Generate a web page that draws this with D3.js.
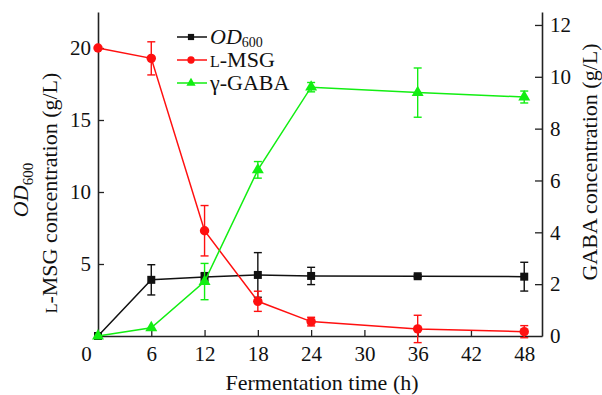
<!DOCTYPE html>
<html>
<head>
<meta charset="utf-8">
<script src="https://cdn.jsdelivr.net/npm/d3@7"></script>
<style>
  body { margin: 0; background: #fff; }
  svg { display: block; font-family: "Liberation Serif", "Times New Roman", serif; }
</style>
</head>
<body>
<svg id="chart" width="602" height="395"></svg>
<script>
// fermentation time (h)
const times = [0, 6, 12, 18, 24, 36, 48];
// OD600 (left axis)
const od600 = [0, 3.9, 4.1, 4.24, 4.17, 4.15, 4.12];
const od600Err = [0, 1.05, 0.3, 1.55, 0.6, 0.1, 1.0];
// L-MSG concentration, g/L (left axis)
const msg = [20, 19.28, 7.31, 2.41, 1.0, 0.49, 0.3];
const msgErr = [0, 1.15, 1.75, 0.7, 0.3, 0.95, 0.42];
// GABA concentration, g/L (right axis)
const gaba = [0, 0.32, 2.1, 6.41, 9.6, 9.39, 9.22];
const gabaErr = [0, 0, 0.7, 0.32, 0.18, 0.95, 0.23];

const xTicks = [0, 6, 12, 18, 24, 30, 36, 42, 48];
const leftTicks = [5, 10, 15, 20];
const rightTicks = [0, 2, 4, 6, 8, 10, 12];

const MARGINS = { top: 12, right: 60, bottom: 59, left: 98 };
const W = 602, H = 395;

const svg = d3.select('#chart');

const scaleX = d3.scaleLinear().domain([0, 50]).range([MARGINS.left, W - MARGINS.right]);
const scaleYL = d3.scaleLinear().domain([0, 22.5]).range([H - MARGINS.bottom, MARGINS.top]);
const scaleYR = d3.scaleLinear().domain([0, 12.5]).range([H - MARGINS.bottom, MARGINS.top]);

const axisColor = '#222';

function styleAxis(g) {
  g.select('.domain').attr('stroke', axisColor).attr('stroke-width', 1.6);
  g.selectAll('.tick line').attr('stroke', axisColor).attr('stroke-width', 1.3);
  g.selectAll('.tick text').attr('fill', '#111').attr('font-size', 21)
    .attr('font-family', '"Liberation Serif", serif');
}

// x axis
const axisX = svg.append('g')
  .attr('transform', `translate(0, ${H - MARGINS.bottom})`)
  .call(d3.axisBottom(scaleX).tickValues(xTicks).tickSizeInner(-6).tickSizeOuter(0).tickPadding(10));
styleAxis(axisX);
// the 0 label sits a bit left of the corner, clear of the y axis
axisX.selectAll('.tick text').filter(d => d === 0).attr('dx', -12);
axisX.selectAll('.tick line').filter(d => d === 0).remove();

// left y axis
const axisL = svg.append('g')
  .attr('transform', `translate(${MARGINS.left}, 0)`)
  .call(d3.axisLeft(scaleYL).tickValues(leftTicks).tickSizeInner(-6).tickSizeOuter(0).tickPadding(7));
styleAxis(axisL);

// right y axis
const axisR = svg.append('g')
  .attr('transform', `translate(${W - MARGINS.right}, 0)`)
  .call(d3.axisRight(scaleYR).tickValues(rightTicks).tickSizeInner(-7).tickSizeOuter(0).tickPadding(8));
styleAxis(axisR);
axisR.selectAll('.tick line').filter(d => d === 0).remove();

// axis titles
svg.append('text')
  .attr('x', (MARGINS.left + W - MARGINS.right) / 2 + 2)
  .attr('y', 390)
  .attr('text-anchor', 'middle')
  .attr('font-size', 22)
  .attr('fill', '#111')
  .text('Fermentation time (h)');

const odTitle = svg.append('text')
  .attr('transform', 'translate(28, 190) rotate(-90)')
  .attr('text-anchor', 'middle')
  .attr('font-size', 22)
  .attr('fill', '#111');
odTitle.append('tspan').attr('font-style', 'italic').text('OD');
odTitle.append('tspan').attr('font-size', 15).attr('dy', 5).text('600');

const msgTitle = svg.append('text')
  .attr('transform', 'translate(57, 193) rotate(-90)')
  .attr('text-anchor', 'middle')
  .attr('font-size', 22)
  .attr('fill', '#111');
msgTitle.append('tspan').attr('font-size', 16).text('L');
msgTitle.append('tspan').text('-MSG concentration (g/L)');

svg.append('text')
  .attr('transform', 'translate(597, 162) rotate(-90)')
  .attr('text-anchor', 'middle')
  .attr('font-size', 22)
  .attr('fill', '#111')
  .text('GABA concentration (g/L)');

// series
const series = [
  { name: 'od', values: od600, errs: od600Err, y: scaleYL, color: '#111111', symbol: d3.symbolSquare, size: 64 },
  { name: 'msg', values: msg, errs: msgErr, y: scaleYL, color: '#ff1010', symbol: d3.symbolCircle, size: 70 },
  { name: 'gaba', values: gaba, errs: gabaErr, y: scaleYR, color: '#12ee12', symbol: d3.symbolTriangle, size: 62 }
];

series.forEach(s => {
  const pts = times.map((t, i) => ({ t, v: s.values[i], e: s.errs[i] }));
  const g = svg.append('g').attr('class', 'series-' + s.name);

  g.append('path')
    .datum(pts)
    .attr('fill', 'none')
    .attr('stroke', s.color)
    .attr('stroke-width', 1.5)
    .attr('d', d3.line().x(d => scaleX(d.t)).y(d => s.y(d.v)));

  const errs = g.selectAll('.err')
    .data(pts.filter(d => d.e > 0))
    .join('g')
    .attr('class', 'err')
    .attr('stroke', s.color)
    .attr('stroke-width', 1.4);
  errs.append('line')
    .attr('x1', d => scaleX(d.t)).attr('x2', d => scaleX(d.t))
    .attr('y1', d => s.y(d.v - d.e)).attr('y2', d => s.y(d.v + d.e));
  errs.append('line')
    .attr('x1', d => scaleX(d.t) - 4).attr('x2', d => scaleX(d.t) + 4)
    .attr('y1', d => s.y(d.v + d.e)).attr('y2', d => s.y(d.v + d.e));
  errs.append('line')
    .attr('x1', d => scaleX(d.t) - 4).attr('x2', d => scaleX(d.t) + 4)
    .attr('y1', d => s.y(d.v - d.e)).attr('y2', d => s.y(d.v - d.e));

  g.selectAll('.mark')
    .data(pts)
    .join('path')
    .attr('class', 'mark')
    .attr('transform', d => `translate(${scaleX(d.t)}, ${s.y(d.v)})`)
    .attr('d', d3.symbol().type(s.symbol).size(s.size))
    .attr('fill', s.color);
});

// legend
const legend = svg.append('g').attr('transform', 'translate(177, 37)');
const legendRows = legend.selectAll('g')
  .data(series)
  .join('g')
  .attr('transform', (d, i) => `translate(0, ${i * 23})`);
legendRows.append('line')
  .attr('x1', 0).attr('x2', 30).attr('y1', 0).attr('y2', 0)
  .attr('stroke', d => d.color).attr('stroke-width', 1.5);
legendRows.append('path')
  .attr('transform', 'translate(14, 0)')
  .attr('d', d => d3.symbol().type(d.symbol).size(d.size * 0.6)())
  .attr('fill', d => d.color);
const legendText = legendRows.append('text')
  .attr('x', 33)
  .attr('y', 7)
  .attr('font-size', 22)
  .attr('fill', '#111');
legendText.each(function (d) {
  const t = d3.select(this);
  if (d.name === 'od') {
    t.append('tspan').attr('font-style', 'italic').text('OD');
    t.append('tspan').attr('font-size', 14).attr('dy', 3).text('600');
  } else if (d.name === 'msg') {
    t.append('tspan').attr('font-size', 16).text('L');
    t.append('tspan').text('-MSG');
  } else {
    t.text('γ-GABA');
  }
});
</script>
</body>
</html>
